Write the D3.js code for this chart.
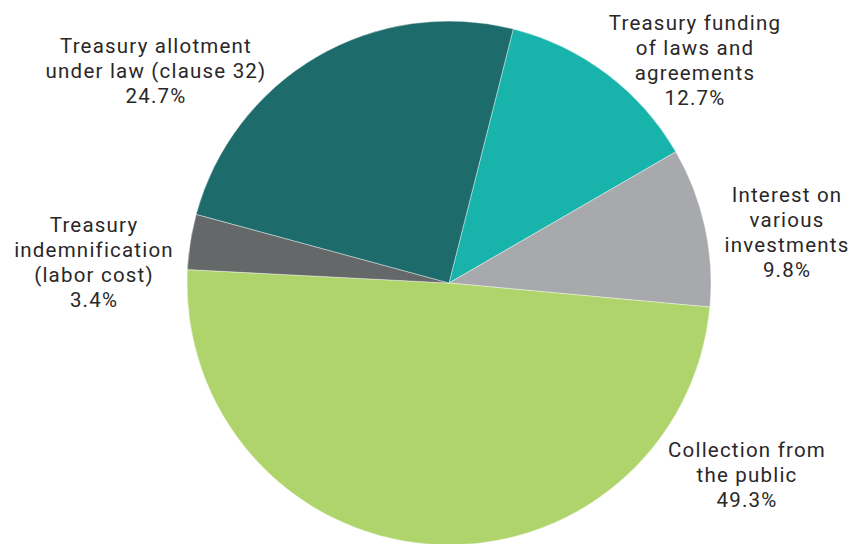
<!DOCTYPE html>
<html lang="en">
<head>
<meta charset="UTF-8">
<script src="https://cdn.jsdelivr.net/npm/d3@7"></script>
<style>
  body { margin: 0; background: #fff; }
  .label text { font-family: Roboto, sans-serif; font-size: 20.5px; font-weight: 400; fill: #2a2728; letter-spacing: 1.2px; }
</style>
</head>
<body>
<div id="chart"></div>
<script>
// Data, clockwise from the slice that starts just right of 12 o'clock
const categories = [
  "Treasury funding of laws and agreements",
  "Interest on various investments",
  "Collection from the public",
  "Treasury indemnification (labor cost)",
  "Treasury allotment under law (clause 32)"
];
const shares = [12.7, 9.8, 49.3, 3.4, 24.7];
const labelLines = [
  ["Treasury funding", "of laws and", "agreements"],
  ["Interest on", "various", "investments"],
  ["Collection from", "the public"],
  ["Treasury", "indemnification", "(labor cost)"],
  ["Treasury allotment", "under law (clause 32)"]
];
const colors = ["#18b3ab", "#a7a9ac", "#afd46c", "#646869", "#1d6b6b"];

// Layout
const width = 857, height = 544;
const cx = 449, cy = 283, radius = 262;
const startDeg = 14.2;
const lineGap = 25;
// label anchor (centre x, first baseline y) relative to pie centre
const labelAt = [[246, -253], [338, -81], [298, 174], [-355, -51], [-293, -230]];

const svg = d3.select("#chart")
  .append("svg")
  .attr("width", width)
  .attr("height", height);

const g = svg.append("g")
  .attr("transform", `translate(${cx},${cy})`);

const start = startDeg * Math.PI / 180;
const pie = d3.pie()
  .sort(null)
  .startAngle(start)
  .endAngle(start + 2 * Math.PI);

const arc = d3.arc()
  .innerRadius(0)
  .outerRadius(radius);

const arcs = pie(shares);

g.selectAll("path.slice")
  .data(arcs)
  .join("path")
  .attr("class", "slice")
  .attr("d", arc)
  .attr("fill", (d, i) => colors[i])
  .attr("stroke", "#fff")
  .attr("stroke-width", 0.4);

const labels = g.selectAll("g.label")
  .data(arcs)
  .join("g")
  .attr("class", "label")
  .attr("transform", (d, i) => `translate(${labelAt[i][0]},${labelAt[i][1]})`);

labels.each(function (d, i) {
  const t = d3.select(this).append("text").attr("text-anchor", "middle");
  const lines = labelLines[i].concat([shares[i].toFixed(1) + "%"]);
  lines.forEach((s, k) => {
    t.append("tspan")
      .attr("x", 0)
      .attr("y", k * lineGap)
      .text(s);
  });
});
</script>
</body>
</html>
